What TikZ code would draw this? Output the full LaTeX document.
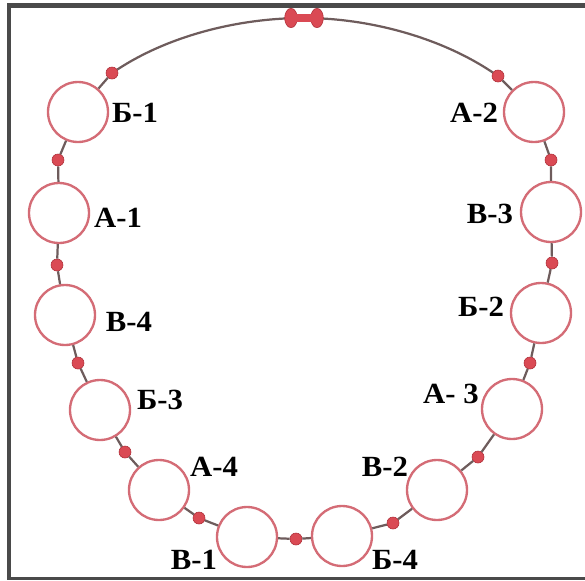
\documentclass[tikz,border=0pt]{standalone}
\usepackage{fontspec}
\setmainfont[FakeStretch=1.05]{Liberation Serif}
\usepackage{tikz}
\usetikzlibrary{shapes,positioning,calc}
\definecolor{framegray}{RGB}{74,74,74}
\definecolor{ringred}{RGB}{212,108,118}
\definecolor{beadred}{RGB}{218,74,84}
\definecolor{beadedge}{RGB}{176,48,58}
\definecolor{chaingray}{RGB}{110,92,92}

\begin{document}
\begin{tikzpicture}[x=0.03cm, y=-0.03cm,
        ring/.style={circle, draw=ringred, line width=2pt, fill=white, minimum size=1.8cm, inner sep=0pt},
        bead/.style={circle, draw=beadedge, line width=0.5pt, fill=beadred, minimum size=0.36cm, inner sep=0pt},
        knob/.style={ellipse, draw=beadedge, line width=0.5pt, fill=beadred, minimum width=0.38cm, minimum height=0.58cm, inner sep=0pt},
        lbl/.style={font=\fontsize{25}{27}\selectfont\bfseries, inner sep=0pt},
        chain/.style={draw=chaingray, line width=1.9pt}]

        \useasboundingbox (0,0) rectangle (585,580);

        % frame (open on the right)
        \draw[framegray, line width=4pt] (585,5.5) -- (9,5.5) -- (9,580);
        \draw[framegray, line width=2.5pt] (9,578.5) -- (585,578.5);

        % rings
        \node[ring] (B1) at (78,112) {};
        \node[ring] (A1) at (59,213) {};
        \node[ring] (V4) at (65,315) {};
        \node[ring] (B3) at (100,410) {};
        \node[ring] (A4) at (159,490) {};
        \node[ring] (V1) at (247,537) {};
        \node[ring] (B4) at (342,536) {};
        \node[ring] (V2) at (437,490) {};
        \node[ring] (A3) at (512,409) {};
        \node[ring] (B2) at (541,313) {};
        \node[ring] (V3) at (551,212) {};
        \node[ring] (A2) at (534,112) {};

        % beads
        \node[bead] (dT1) at (112,73) {};
        \node[bead] (d1) at (58,160) {};
        \node[bead] (d2) at (57,265) {};
        \node[bead] (d3) at (78,363) {};
        \node[bead] (d4) at (125,452) {};
        \node[bead] (d5) at (199,518) {};
        \node[bead] (d6) at (296,539) {};
        \node[bead] (d7) at (393,523) {};
        \node[bead] (d8) at (478,457) {};
        \node[bead] (d9) at (530,363) {};
        \node[bead] (d10) at (552,263) {};
        \node[bead] (d11) at (551,160) {};
        \node[bead] (dT2) at (498,76) {};
        \coordinate (clasp) at (304,18);

        % chain
        \draw[chain] (B1) -- (dT1);
        \draw[chain] (dT1) .. controls (170,35) and (240,18) .. (clasp);
        \draw[chain] (clasp) .. controls (368,18) and (440,37) .. (dT2);
        \draw[chain] (dT2) -- (A2);
        \draw[chain] (B1) -- (d1) -- (A1) -- (d2) -- (V4) -- (d3) -- (B3) -- (d4) -- (A4) -- (d5) -- (V1) -- (d6) -- (B4);
        \draw[chain] (B4) -- (d7) -- (V2) -- (d8) -- (A3) -- (d9) -- (B2) -- (d10) -- (V3) -- (d11) -- (A2);

        % clasp
        \node[knob] (knobL) at (291,18) {};
        \node[knob] (knobR) at (317,18) {};
        \fill[beadred] (294,14) rectangle (314,22);

        % labels
        \node[lbl] (lB1) at (135,113) {Б-1};
        \node[lbl] (lA1) at (118,218) {А-1};
        \node[lbl] (lV4) at (129,322) {В-4};
        \node[lbl] (lB3) at (160,400) {Б-3};
        \node[lbl] (lA4) at (214,467) {А-4};
        \node[lbl] (lV1) at (194,560) {В-1};
        \node[lbl] (lB4) at (395,560) {Б-4};
        \node[lbl] (lV2) at (385,467) {В-2};
        \node[lbl] (lA3) at (451,394) {А- 3};
        \node[lbl] (lB2) at (481,307) {Б-2};
        \node[lbl] (lV3) at (490,214) {В-3};
        \node[lbl] (lA2) at (474,113) {А-2};

    \end{tikzpicture}
\end{document}
